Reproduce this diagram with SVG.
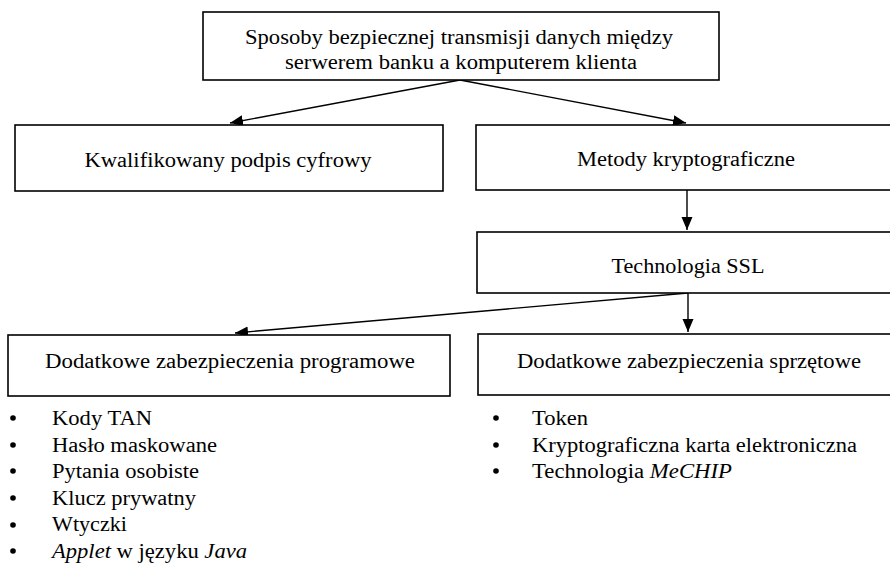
<svg xmlns="http://www.w3.org/2000/svg" width="890" height="568" viewBox="0 0 890 568">
<defs>
<style>
.box{fill:#fff;stroke:#000;stroke-width:1.6}
.t{font-family:"Liberation Serif","Times New Roman",Times,Tinos,"Nimbus Roman","Nimbus Roman No9 L","Noto Serif","DejaVu Serif",FreeSerif,serif;font-size:20px;fill:#000}
.c{text-anchor:middle}
.con{stroke:#000;stroke-width:1.4;fill:none;marker-end:url(#ah)}
.dot{fill:#000}
</style>
<marker id="ah" markerUnits="userSpaceOnUse" markerWidth="14" markerHeight="12" refX="13" refY="5.5" orient="auto">
<path d="M0,0 L13,5.5 L0,11 z" fill="#000"/>
</marker>
</defs>
<rect width="890" height="568" fill="#fff"/>
<g id="connectors">
<line class="con" x1="460" y1="80" x2="230" y2="123"/>
<line class="con" x1="460" y1="80" x2="686" y2="123"/>
<line class="con" x1="687" y1="190" x2="687" y2="230"/>
<line class="con" x1="688" y1="293" x2="688" y2="332"/>
<line class="con" x1="688" y1="293" x2="235" y2="333"/>
</g>
<g id="n-root">
<rect class="box" x="203" y="12" width="516" height="68"/>
<text class="t c" x="459" y="44" textLength="428" lengthAdjust="spacingAndGlyphs">Sposoby bezpiecznej transmisji danych między</text>
<text class="t c" x="461" y="69" textLength="352" lengthAdjust="spacingAndGlyphs">serwerem banku a komputerem klienta</text>
</g>
<g id="n-podpis">
<rect class="box" x="15" y="125" width="428" height="66"/>
<text class="t c" x="228" y="167" textLength="287" lengthAdjust="spacingAndGlyphs">Kwalifikowany podpis cyfrowy</text>
</g>
<g id="n-metody">
<rect class="box" x="476" y="125" width="420" height="65"/>
<text class="t c" x="686" y="166" textLength="218" lengthAdjust="spacingAndGlyphs">Metody kryptograficzne</text>
</g>
<g id="n-ssl">
<rect class="box" x="477" y="232" width="419" height="61"/>
<text class="t c" x="688" y="273" textLength="153" lengthAdjust="spacingAndGlyphs">Technologia SSL</text>
</g>
<g id="n-programowe">
<rect class="box" x="8" y="335" width="442" height="61"/>
<text class="t c" x="230" y="368" textLength="370" lengthAdjust="spacingAndGlyphs">Dodatkowe zabezpieczenia programowe</text>
<g id="list-programowe">
<circle class="dot" cx="13" cy="418" r="2.8"/>
<text class="t" x="52" y="425" textLength="100" lengthAdjust="spacingAndGlyphs">Kody TAN</text>
<circle class="dot" cx="13" cy="445" r="2.8"/>
<text class="t" x="52" y="452" textLength="165" lengthAdjust="spacingAndGlyphs">Hasło maskowane</text>
<circle class="dot" cx="13" cy="471" r="2.8"/>
<text class="t" x="52" y="478" textLength="147" lengthAdjust="spacingAndGlyphs">Pytania osobiste</text>
<circle class="dot" cx="13" cy="498" r="2.8"/>
<text class="t" x="52" y="505" textLength="144" lengthAdjust="spacingAndGlyphs">Klucz prywatny</text>
<circle class="dot" cx="13" cy="525" r="2.8"/>
<text class="t" x="52" y="531" textLength="75" lengthAdjust="spacingAndGlyphs">Wtyczki</text>
<circle class="dot" cx="13" cy="551" r="2.8"/>
<text class="t" x="52" y="558" textLength="195" lengthAdjust="spacingAndGlyphs"><tspan font-style="italic">Applet</tspan> w języku <tspan font-style="italic">Java</tspan></text>
</g>
</g>
<g id="n-sprzetowe">
<rect class="box" x="478" y="334" width="418" height="61"/>
<text class="t c" x="689" y="368" textLength="344" lengthAdjust="spacingAndGlyphs">Dodatkowe zabezpieczenia sprzętowe</text>
<g id="list-sprzetowe">
<circle class="dot" cx="496" cy="418" r="2.8"/>
<text class="t" x="532" y="425" textLength="56" lengthAdjust="spacingAndGlyphs">Token</text>
<circle class="dot" cx="496" cy="445" r="2.8"/>
<text class="t" x="532" y="452" textLength="325" lengthAdjust="spacingAndGlyphs">Kryptograficzna karta elektroniczna</text>
<circle class="dot" cx="496" cy="471" r="2.8"/>
<text class="t" x="532" y="478" textLength="200" lengthAdjust="spacingAndGlyphs">Technologia <tspan font-style="italic">MeCHIP</tspan></text>
</g>
</g>
</svg>
